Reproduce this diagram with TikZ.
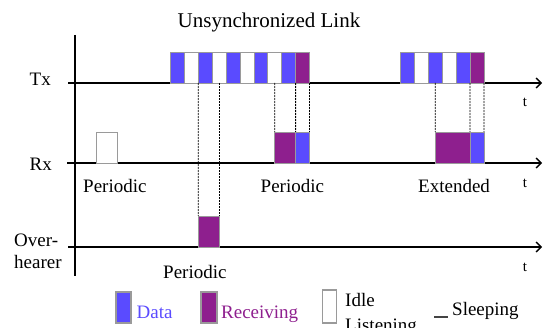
\documentclass[tikz,border=0pt]{standalone}
\usepackage{fontspec}
\setmainfont{Liberation Serif}
\usetikzlibrary{arrows.meta}

\definecolor{datablue}{HTML}{5A4BFF}
\definecolor{recvpurple}{HTML}{8E1F8E}
\definecolor{slotgray}{HTML}{9A9A9A}
\definecolor{sleepgray}{HTML}{444444}

\tikzset{
  slot/.style={draw=slotgray, line width=0.8pt, minimum height=31pt,
    minimum width=13.9pt, inner sep=0pt, outer sep=0pt, anchor=south west},
  axisline/.style={line width=1.4pt},
  timeaxis/.style={axisline, -{Straight Barb[length=5pt,width=10pt,line width=1.3pt]}},
  guide/.style={dash pattern=on 2pt off 1pt, line width=0.8pt},
  lbl/.style={font=\fontsize{19}{22}\selectfont, inner sep=0pt},
  tlbl/.style={font=\fontsize{15}{18}\selectfont, inner sep=0pt, anchor=base},
}

\begin{document}
\begin{tikzpicture}[x=1pt, y=-1pt]
\useasboundingbox (0,0) rectangle (551,328);

% title
\node[lbl, font=\fontsize{21}{24}\selectfont, anchor=base] (title) at (269,28) {Unsynchronized Link};

% vertical axis and the three time lines
\coordinate (vtop) at (75,35);
\coordinate (vbot) at (75,276);
\draw[axisline] (vtop) -- (vbot);
\coordinate (txs) at (68,83);   \coordinate (txe) at (542,83);
\coordinate (rxs) at (67,163);  \coordinate (rxe) at (542,163);
\coordinate (ovs) at (68,247);  \coordinate (ove) at (542,247);
\draw[timeaxis] (txs) -- (txe);
\draw[timeaxis] (rxs) -- (rxe);
\draw[timeaxis] (ovs) -- (ove);

% row labels
\node[lbl, anchor=base east] (txl) at (51,86) {Tx};
\node[lbl, anchor=base east] (rxl) at (52,170.5) {Rx};
\node[lbl, anchor=base west] (ovl1) at (14,246.5) {Over-};
\node[lbl, anchor=base west] (ovl2) at (14,268.5) {hearer};
\node[tlbl] (ttx) at (525,106.5) {t};
\node[tlbl] (trx) at (525,188) {t};
\node[tlbl] (tov) at (525,271.5) {t};

% transmitter: first burst of preamble/data slots
\foreach \i/\col in {1/datablue,2/white,3/datablue,4/white,5/datablue,
                     6/white,7/datablue,8/white,9/datablue,10/recvpurple}
  \node[slot, fill=\col] (tx\i) at ({170.5+(\i-1)*13.9},83) {};

% transmitter: second burst
\foreach \i/\col in {1/datablue,2/white,3/datablue,4/white,5/datablue,6/recvpurple}
  \node[slot, fill=\col] (ty\i) at ({400.5+(\i-1)*13.9},83) {};

% receiver
\node[slot, fill=white, minimum width=21.3pt] (rxidle) at (96,163) {};
\node[slot, fill=recvpurple, minimum width=20.85pt] (rxa) at (274.75,163) {};
\node[slot, fill=datablue] (rxb) at (295.6,163) {};
\node[slot, fill=recvpurple, minimum width=34.75pt] (rxc) at (435.25,163) {};
\node[slot, fill=datablue] (rxd) at (470,163) {};

% overhearer
\node[slot, fill=recvpurple, minimum width=20.85pt] (ov) at (198.3,247) {};

% alignment guides
\draw[guide] (tx3.south west) -- (ov.north west);
\draw[guide] (ov.north east |- tx3.south) -- (ov.north east);
\draw[guide] (tx8.south) -- (rxa.north west);
\draw[guide] (tx10.south west) -- (rxa.north east);
\draw[guide] (tx10.south east) -- (rxb.north east);
\draw[guide] (ty3.south) -- (rxc.north west);
\draw[guide] (ty6.south west) -- (rxc.north east);
\draw[guide] (ty6.south east) -- (rxd.north east);

% mode labels
\node[lbl, anchor=base west] (p1) at (83,193) {Periodic};
\node[lbl, anchor=base west] (p2) at (260.5,193) {Periodic};
\node[lbl, anchor=base west] (ext) at (418,193) {Extended};
\node[lbl, anchor=base west] (p3) at (163,278.5) {Periodic};

% legend
\node[slot, fill=datablue, minimum width=15pt, line width=1.2pt] (kdata) at (116,323) {};
\node[lbl, anchor=base west, text=datablue] (kdatat) at (136.5,319) {Data};
\node[slot, fill=recvpurple, minimum width=16pt, line width=1.2pt] (krecv) at (201,323) {};
\node[lbl, anchor=base west, text=recvpurple] (krecvt) at (221,319) {Receiving};
\node[slot, fill=white, minimum width=14pt, minimum height=33pt, line width=1.2pt] (kidle) at (322.7,323) {};
\node[lbl, anchor=base west] (kidlet1) at (345,306.5) {Idle};
\node[lbl, anchor=base west] (kidlet2) at (345,331.5) {Listening};
\coordinate (ks1) at (434,317.5);
\coordinate (ks2) at (448,317.5);
\draw[sleepgray, line width=2pt] (ks1) -- (ks2);
\node[lbl, anchor=base west] (ksleep) at (452,316) {Sleeping};
\end{tikzpicture}
\end{document}
